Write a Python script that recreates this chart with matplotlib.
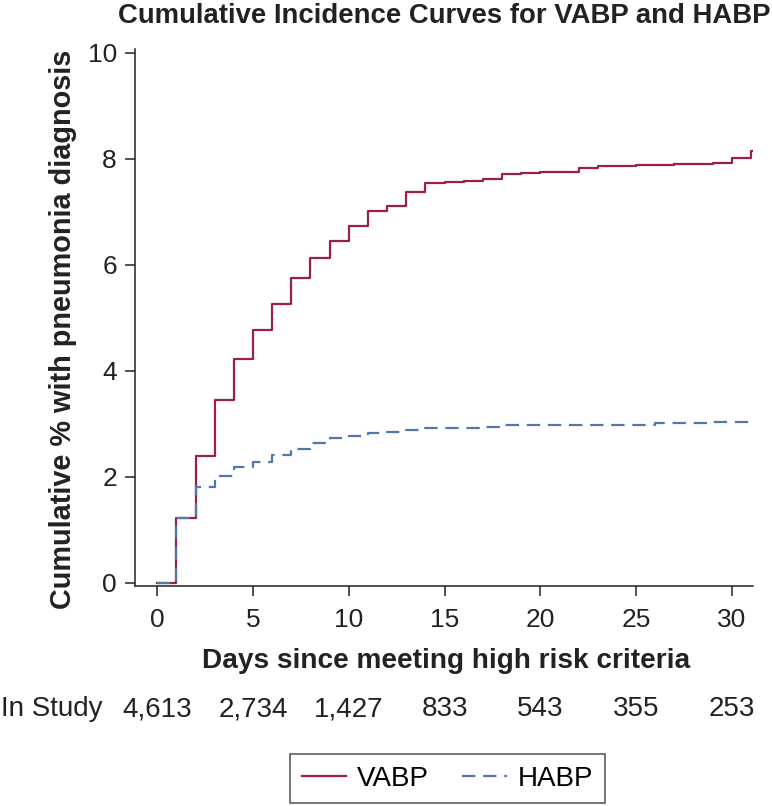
import matplotlib.pyplot as plt
from matplotlib.transforms import blended_transform_factory

plt.rcParams["font.family"] = ["Liberation Sans", "DejaVu Sans"]

days = [0, 1, 2, 3, 4, 5, 6, 7, 8, 9, 10, 11, 12, 13, 14, 15,
        16, 17, 18, 19, 20, 21, 22, 23, 24, 25, 26, 27, 28, 29, 30, 31, 31.1]
vabp = [0, 1.22, 2.40, 3.46, 4.23, 4.78, 5.26, 5.76, 6.12, 6.45, 6.73, 7.02, 7.10, 7.38, 7.54, 7.56,
        7.58, 7.62, 7.71, 7.74, 7.75, 7.75, 7.82, 7.86, 7.86, 7.88, 7.88, 7.90, 7.90, 7.92, 8.01, 8.14, 8.14]
habp = [0, 1.22, 1.81, 2.01, 2.18, 2.29, 2.41, 2.53, 2.64, 2.73, 2.78, 2.83, 2.85, 2.89, 2.92, 2.92,
        2.92, 2.95, 2.98, 2.98, 2.98, 2.98, 2.98, 2.98, 2.98, 2.98, 3.01, 3.01, 3.01, 3.03, 3.04, 3.06, 3.06]

risk_days = [0, 5, 10, 15, 20, 25, 30]
in_study = ["4,613", "2,734", "1,427", "833", "543", "355", "253"]

W, H = 772, 806
fig = plt.figure(figsize=(W / 100, H / 100), dpi=100)
ax = fig.add_axes([135 / W, 1 - 586 / H, (753 - 135) / W, (586 - 49) / H])

ax.plot(days, vabp, drawstyle="steps-post", color="#9c1f47", lw=1.6, label="VABP")
ax.plot(days, habp, drawstyle="steps-post", color="#5277ab", lw=1.6,
        dashes=(6, 3.5), label="HABP")

ax.set_xlim(-1.16, 31.1)
ax.set_ylim(-0.057, 10.07)
ax.set_xticks(risk_days)
ax.set_yticks([0, 2, 4, 6, 8, 10])
for s in ["top", "right"]:
    ax.spines[s].set_visible(False)
for s in ["left", "bottom"]:
    ax.spines[s].set_linewidth(1.1)
    ax.spines[s].set_color("#222222")
ax.tick_params(direction="out", length=7, width=1.1, color="#222222",
               labelsize=19, labelcolor="#222222")
ax.tick_params(axis="x", pad=9)
ax.tick_params(axis="y", pad=6)

fig.text(444 / W, 1 - 23 / H, "Cumulative Incidence Curves for VABP and HABP",
         ha="center", va="baseline", fontsize=19.8, fontweight="bold", color="#222222")
fig.text(446 / W, 1 - 668 / H, "Days since meeting high risk criteria",
         ha="center", va="baseline", fontsize=20.2, fontweight="bold", color="#222222")
fig.text(63 / W, 1 - 329 / H, "Cumulative % with pneumonia diagnosis",
         ha="center", va="center", rotation=90, fontsize=20.8, fontweight="bold", color="#222222")

# number at risk row
fig.text(1 / W, 1 - 716 / H, "In Study", ha="left", va="baseline", fontsize=20, color="#222222")
bt = blended_transform_factory(ax.transData, fig.transFigure)
for d, n in zip(risk_days, in_study):
    ax.text(d, 1 - 716 / H, n, transform=bt, ha="center", va="baseline",
            fontsize=20, color="#222222", clip_on=False)

leg = fig.legend(loc="center", bbox_to_anchor=(447.5 / W, 1 - 778.5 / H), ncol=2,
                 fontsize=20, frameon=True, fancybox=False, edgecolor="#222222",
                 handlelength=1.6, handletextpad=0.4, columnspacing=1.2, borderpad=0.4)
leg.get_frame().set_linewidth(1.1)

fig.savefig("out.png", dpi=100)
